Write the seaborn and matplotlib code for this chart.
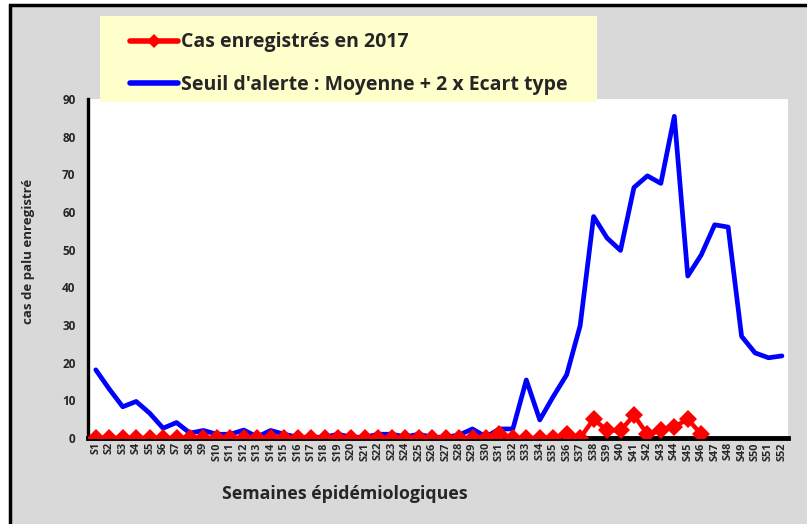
import numpy as np
import pandas as pd
import matplotlib
matplotlib.use("Agg")
import matplotlib.pyplot as plt
from matplotlib.patches import Rectangle
from matplotlib.lines import Line2D
import seaborn as sns

# Weekly data
semaines = [f"S{i}" for i in range(1, 53)]
seuil = [18.1, 13.0, 8.3, 9.7, 6.6, 2.6, 4.1, 1.3, 2.0, 1.0,
         1.0, 2.1, 0.3, 2.0, 1.0, 0.2, 0.2, 0.2, 1.0, 0.2,
         0.2, 1.0, 1.0, 0.3, 1.0, 0.2, 0.2, 0.8, 2.4, 0.3,
         2.4, 2.4, 15.4, 4.8, 11.0, 16.8, 29.8, 58.8, 53.1, 49.8,
         66.5, 69.6, 67.6, 85.4, 43.0, 48.6, 56.6, 56.0, 27.0, 22.6,
         21.3, 21.8]
cas_2017 = [0, 0, 0, 0, 0, 0, 0, 0, 0, 0,
            0, 0, 0, 0, 0, 0, 0, 0, 0, 0,
            0, 0, 0, 0, 0, 0, 0, 0, 0, 0,
            1, 0, 0, 0, 0, 1, 0, 5, 2, 2,
            6, 1, 2, 3, 5, 1]
cas_2017 = cas_2017 + [np.nan] * (len(semaines) - len(cas_2017))

df = pd.DataFrame({"semaine": semaines, "seuil": seuil, "cas": cas_2017})
df["pos"] = np.arange(len(df))

sns.set_style("white")
plt.rcParams["font.family"] = ["Open Sans", "DejaVu Sans"]
plt.rcParams["font.weight"] = "bold"

fig = plt.figure(figsize=(8.07, 5.24), dpi=100)
fig.patch.set_facecolor("white")
# grey chart area with black frame
fig.add_artist(Rectangle((10 / 807, -0.05), 1.1, 1.05 - 5 / 524, transform=fig.transFigure,
                         facecolor="#d9d9d9", edgecolor="black", lw=2.5, zorder=-1))

ax = fig.add_axes([88 / 807, 1 - 438 / 524, 700 / 807, 339 / 524])
ax.set_facecolor("white")

red, blue = "#ff0000", "#0000ff"
sns.lineplot(data=df, x="pos", y="seuil", color=blue, lw=3.4, ax=ax, zorder=3)
sns.lineplot(data=df.dropna(), x="pos", y="cas", color=red, lw=3.2, marker="D",
             markersize=9, markeredgewidth=0, ax=ax, zorder=4)

ax.set_xlim(-0.58, 51.45)
ax.set_ylim(0, 90)
ax.set_yticks(range(0, 91, 10))
ax.set_xticks(df["pos"])
ax.set_xticklabels(semaines, rotation=90, fontsize=7.8, fontweight="bold")
ax.tick_params(axis="y", length=0, pad=9, labelsize=8.5)
ax.tick_params(axis="x", length=0, pad=3)
for lab in ax.get_yticklabels():
    lab.set_fontweight("bold")

for s in ["top", "right"]:
    ax.spines[s].set_visible(False)
ax.spines["left"].set_linewidth(2.4)
ax.spines["left"].set_color("black")
ax.spines["bottom"].set_linewidth(3.5)
ax.spines["bottom"].set_color("black")

ax.set_xlabel("")
ax.set_ylabel("cas de palu enregistré", fontsize=9.5, fontweight="bold")
ax.yaxis.set_label_coords(-0.075, 0.55)
fig.text(345 / 807, 1 - 494 / 524, "Semaines épidémiologiques", ha="center", va="center",
         fontsize=12.8, fontweight="bold")

# legend box
fig.add_artist(Rectangle((100 / 807, 1 - 102 / 524), 497 / 807, 86 / 524, transform=fig.transFigure,
                         facecolor="#ffffcc", edgecolor="none", zorder=5))
handles = [Line2D([], [], color=red, lw=4, marker="D", markersize=7, markeredgewidth=0),
           Line2D([], [], color=blue, lw=4)]
fig.legend(handles, ["Cas enregistrés en 2017", "Seuil d'alerte : Moyenne + 2 x Ecart type"],
           loc="upper left", bbox_to_anchor=(112 / 807, 1 - 15 / 524), frameon=False,
           prop={"size": 14, "weight": "bold"}, handlelength=2.5, handletextpad=0.15,
           labelspacing=1.15)
fig.legends[0].set_zorder(6)

fig.savefig("out.png", dpi=100)
